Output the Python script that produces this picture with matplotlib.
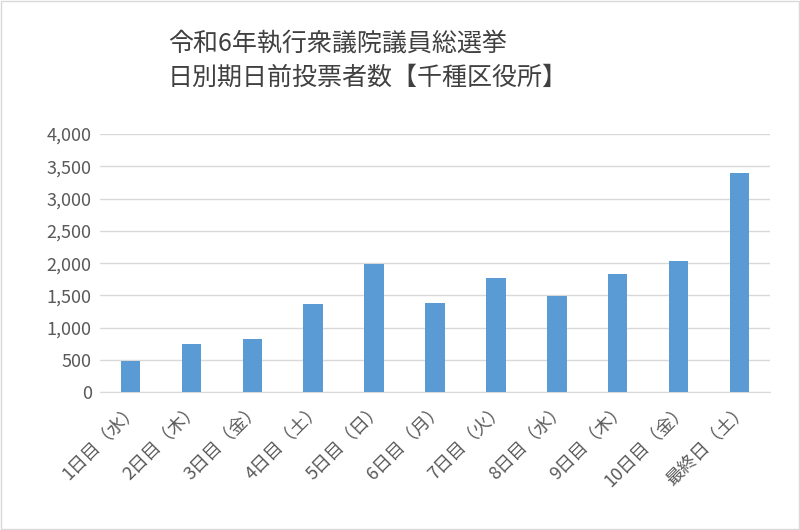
import matplotlib.pyplot as plt
from matplotlib.ticker import FuncFormatter

plt.rcParams['font.family'] = ['Noto Sans CJK JP', 'DejaVu Sans']

days = ['1日目（水）', '2日目（木）', '3日目（金）', '4日目（土）', '5日目（日）', '6日目（月）',
        '7日目（火）', '8日目（水）', '9日目（木）', '10日目（金）', '最終日（土）']
voters = [480, 740, 830, 1370, 1980, 1390, 1770, 1490, 1830, 2040, 3390]

fig = plt.figure(figsize=(8, 5.3), dpi=100)
ax = fig.add_axes([0.125, 0.26, 0.8375, 0.487])

ax.bar(range(len(days)), voters, width=0.32, color='#5b9bd5', zorder=3)
ax.set_ylim(0, 4000)
ax.set_xlim(-0.5, len(days) - 0.5)
ax.set_yticks(range(0, 4001, 500))
ax.yaxis.set_major_formatter(FuncFormatter(lambda v, p: f'{int(v):,}'))
ax.grid(axis='y', color='#d9d9d9', linewidth=1, zorder=0)
ax.set_xticks(range(len(days)))
ax.set_xticklabels(days, rotation=45, ha='right', rotation_mode='anchor')
ax.tick_params(axis='both', length=0, labelsize=13, colors='#595959', pad=6)
for s in ['top', 'right', 'left']:
    ax.spines[s].set_visible(False)
ax.spines['bottom'].set_color('#d9d9d9')

fig.text(0.21, 0.885, '令和6年執行衆議院議員総選挙\n日別期日前投票者数【千種区役所】',
         fontsize=18, color='#404040', ha='left', va='center', linespacing=1.4)

fig.patches.append(plt.Rectangle((0.001, 0.001), 0.998, 0.998, transform=fig.transFigure,
                                 fill=False, edgecolor='#d9d9d9', linewidth=1))
fig.savefig('out.png', dpi=100)
